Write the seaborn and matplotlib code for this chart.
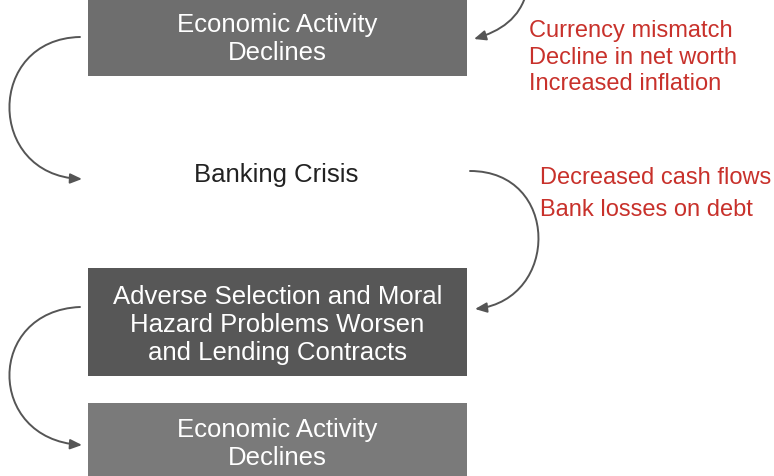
import matplotlib
matplotlib.use("Agg")
import matplotlib.pyplot as plt
import seaborn as sns
from matplotlib.patches import FancyArrowPatch, Rectangle
from matplotlib.path import Path

sns.set_style("white")
plt.rcParams['font.family'] = ['Liberation Sans', 'DejaVu Sans']

# flow steps: label, top, bottom, fill colour (None = plain text)
step_labels = ["Economic Activity\nDeclines",
               "Banking Crisis",
               "Adverse Selection and Moral\nHazard Problems Worsen\nand Lending Contracts",
               "Economic Activity\nDeclines"]
step_top = [-3, 150, 269, 404]
step_bottom = [77, 200, 377, 480]
step_fill = ["#6e6e6e", None, "#575757", "#7a7a7a"]

# red causes next to the arrows
causes_top = ["Currency mismatch", "Decline in net worth", "Increased inflation"]
causes_mid = ["Decreased cash flows", "Bank losses on debt"]

box_left, box_right = 88, 467
arrow_col = "#555555"
red = "#c8312b"

fig = plt.figure(figsize=(7.74, 4.77), dpi=100)
ax = fig.add_axes([0, 0, 1, 1])
ax.set_xlim(0, 774)
ax.set_ylim(477, 0)
ax.axis("off")

cx = (box_left + box_right) / 2
for lab, t, b, fc in zip(step_labels, step_top, step_bottom, step_fill):
    if fc is not None:
        ax.add_patch(Rectangle((box_left, t), box_right - box_left, b - t,
                               facecolor=fc, edgecolor="none"))
        ax.text(cx, (t + b) / 2 + 2, lab, ha="center", va="center",
                color="white", fontsize=18.5, linespacing=1.2)
    else:
        ax.text(cx - 1, (t + b) / 2, lab, ha="center", va="center",
                color="#222222", fontsize=18.5)

for i, s in enumerate(causes_top):
    ax.text(529, 31 + i * 26.5, s, ha="left", va="center", color=red, fontsize=17)
for i, s in enumerate(causes_mid):
    ax.text(540, 178 + i * 32, s, ha="left", va="center", color=red, fontsize=17)


def curve(p0, p1, p2, p3):
    path = Path([p0, p1, p2, p3], [Path.MOVETO, Path.CURVE4, Path.CURVE4, Path.CURVE4])
    ax.add_patch(FancyArrowPatch(path=path, arrowstyle="-|>,head_length=7,head_width=3",
                                 color=arrow_col, lw=1.4))


# left loops
curve((80, 38), (-14, 40), (-14, 176), (82, 180))
curve((80, 308), (-14, 312), (-14, 440), (82, 446))
# right loops
curve((470, 172), (560, 172), (560, 300), (475, 310))
curve((527, -8), (520, 20), (500, 32), (474, 40))

fig.savefig("out.png", dpi=100)
